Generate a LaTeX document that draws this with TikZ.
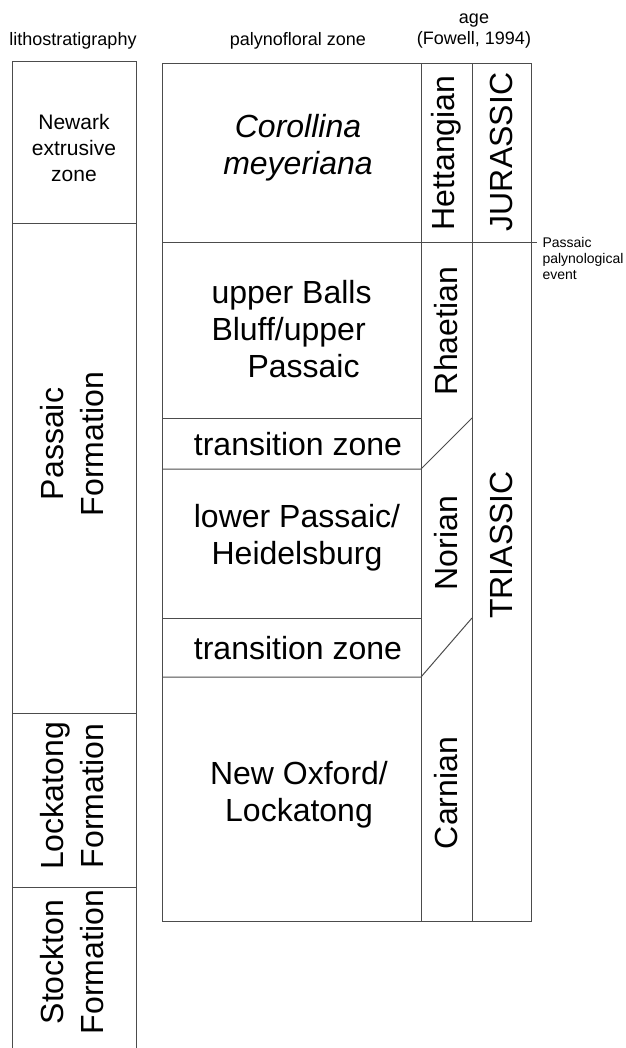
\documentclass[tikz,border=0pt]{standalone}
\usepackage{fontspec}
\setmainfont{Liberation Sans}

\begin{document}
\begin{tikzpicture}[x=1pt, y=1pt, line width=1pt,
    rule/.style={draw=black!70},
    head/.style={font=\fontsize{18}{21}\selectfont, align=center},
    zonetext/.style={font=\fontsize{32}{37}\selectfont, align=center},
    sidetext/.style={font=\fontsize{32}{40}\selectfont, align=center, rotate=90},
    agetext/.style={font=\fontsize{32}{37}\selectfont, rotate=90}]
        \useasboundingbox (0, 0) rectangle (625, -1048);

        \node[head] (lithohead) at (73, -41) {lithostratigraphy};
        \node[head] (zonehead) at (298, -41) {palynofloral zone};
        \node[head] (agehead) at (474, -31) {age\\(Fowell, 1994)};

        \draw [rule] (12, -1048) -- (12, -62) -- (136, -62) -- (136, -1048);
        \draw [rule] (12, -224) -- (136, -224);
        \draw [rule] (12, -713) -- (136, -713);
        \draw [rule] (12, -887) -- (136, -887);
        \node[font=\fontsize{21}{26}\selectfont, align=center] (newark) at (74, -148) {Newark\\extrusive\\zone};
        \node[sidetext] (passaic) at (72, -444) {Passaic\\Formation};
        \node[sidetext] (lockatong) at (72, -796) {Lockatong\\Formation};
        \node[sidetext] (stockton) at (72, -962) {Stockton\\Formation};

        \draw [rule] (162, -64) rectangle (531, -921);
        \draw [rule] (421, -64) -- (421, -921);
        \draw [rule] (472, -64) -- (472, -921);
        \draw [rule] (162, -243) -- (537, -243);
        \draw [rule] (162, -418) -- (421, -418);
        \draw [rule] (162, -469) -- (421, -469) -- (472, -418);
        \draw [rule] (162, -618) -- (421, -618);
        \draw [rule] (162, -677) -- (421, -677) -- (472, -618);

        \node[zonetext, font=\fontsize{32}{37}\selectfont\itshape] (corollina) at (298, -148) {Corollina\\meyeriana};
        \node[zonetext, align=left, anchor=west, inner sep=0] (upperballs) at (211, -329) {upper Balls\\Bluff/upper\\\hspace*{36pt}Passaic};
        \node[zonetext] (transup) at (298, -444) {transition zone};
        \node[zonetext] (lowerpassaic) at (297, -538) {lower Passaic/\\Heidelsburg};
        \node[zonetext] (translow) at (298, -648) {transition zone};
        \node[zonetext] (newoxford) at (299, -795) {New Oxford/\\Lockatong};

        \node[agetext] (hettangian) at (446, -153) {Hettangian};
        \node[agetext] (rhaetian) at (446, -331) {Rhaetian};
        \node[agetext] (norian) at (446, -543) {Norian};
        \node[agetext] (carnian) at (446, -793) {Carnian};
        \node[agetext] (jurassic) at (501, -152) {JURASSIC};
        \node[agetext] (triassic) at (501, -545) {TRIASSIC};

        \node[font=\fontsize{14}{16}\selectfont, align=left, anchor=north west, inner sep=0] (event) at (542, -237) {Passaic\\palynological\\event};
    \end{tikzpicture}
\end{document}
